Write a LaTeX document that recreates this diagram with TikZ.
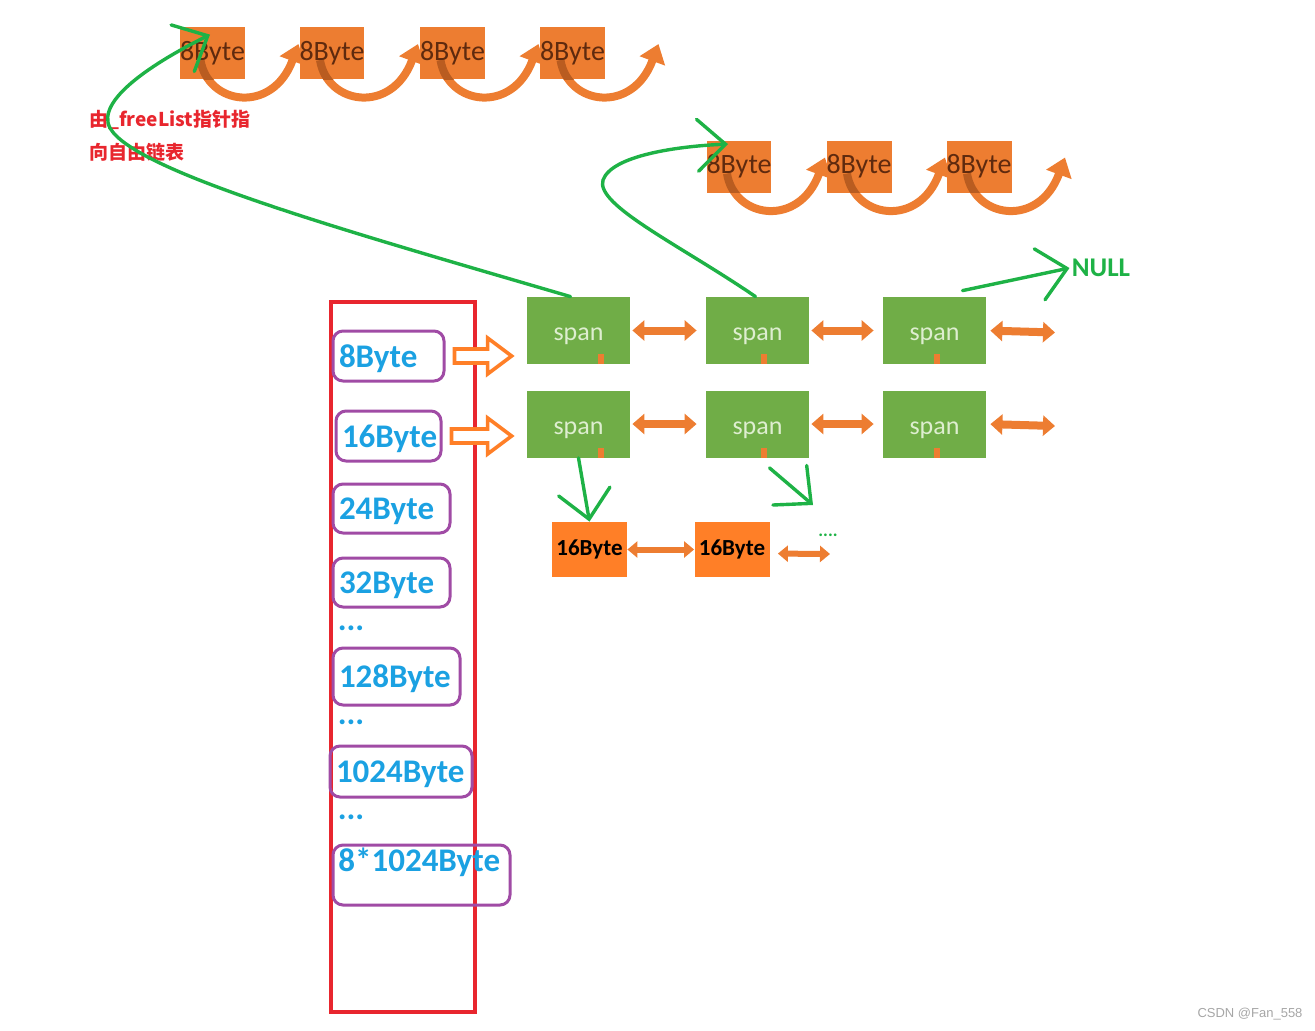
\documentclass[tikz,border=0pt]{standalone}
\usepackage{fontspec}
\setmainfont{Carlito}
\newfontfamily\cjkfont{Noto Sans CJK SC}
\newfontfamily\markfont{Liberation Sans}
\usetikzlibrary{arrows.meta,calc}
\pgfdeclarelayer{background}
\pgfsetlayers{background,main}

\definecolor{slotblue}{RGB}{27,161,226}
\definecolor{slotpurple}{RGB}{160,75,165}
\definecolor{listred}{RGB}{232,38,46}
\definecolor{spangreen}{RGB}{112,173,71}
\definecolor{spantext}{RGB}{222,238,208}
\definecolor{chunkorange}{RGB}{237,125,49}
\definecolor{curldark}{RGB}{185,92,32}
\definecolor{chunktext}{RGB}{95,42,14}
\definecolor{smallorange}{RGB}{255,127,39}
\definecolor{ptrgreen}{RGB}{30,178,70}

\tikzset{
  slot/.style={draw=slotpurple, line width=1.5pt, rounded corners=5pt, text=slotblue,
    font=\fontsize{16.5}{18}\selectfont\bfseries, align=left, inner xsep=3pt, text depth=0pt},
  spanbox/.style={fill=spangreen, minimum width=51.5pt, minimum height=33.5pt,
    text=spantext, font=\fontsize{13}{14}\selectfont, text height=16pt, text depth=6pt},
  chunk/.style={fill=chunkorange, minimum width=32pt, minimum height=26pt, inner sep=0pt,
    text=chunktext, font=\fontsize{14}{15}\selectfont,
    path picture={\draw[line width=4pt, draw=curldark]
      ($(path picture bounding box.center)+(-12,7)$) .. controls
      ($(path picture bounding box.center)+(-5,52)$) and
      ($(path picture bounding box.center)+(60,62)$) ..
      ($(path picture bounding box.center)+(86,-9)$);}},
  curl/.style={draw=chunkorange, line width=4pt, -{Triangle[length=9pt,width=13pt]}},
  smallbox/.style={fill=smallorange, minimum width=37.5pt, minimum height=27.5pt,
    inner sep=0pt, font=\fontsize{11.5}{12}\selectfont\bfseries},
  link/.style={draw=chunkorange, line width=4pt,
    {Triangle[length=6pt,width=10pt]}-{Triangle[length=6pt,width=10pt]}},
  linksmall/.style={draw=chunkorange, line width=3pt,
    {Triangle[length=5pt,width=8pt]}-{Triangle[length=5pt,width=8pt]}},
  hollow/.style={draw=smallorange, line width=1.8pt, fill=white, line join=miter},
  ptr/.style={draw=ptrgreen, line width=1.7pt, line cap=round,
    -{Straight Barb[length=14pt,width=26pt,line cap=round]}},
  note/.style={text=listred, font=\cjkfont\fontsize{9.5}{11}\selectfont\bfseries, inner sep=0pt},
}

\begin{document}
\begin{tikzpicture}[x=0.5pt,y=-0.5pt]
\useasboundingbox (0,0) rectangle (1315,1030);

% size class table
\node[draw=listred, line width=2pt, minimum width=72pt, minimum height=355pt] (table) at (403,657) {};
\foreach \nm/\cx/\cy/\bw/\bh/\bt/\txt in {b8/388.5/356/55.5/25/49.5/8Byte,
    b16/388.5/436/52.5/25/46.5/16Byte, b24/391.5/508.5/58.5/24.5/52.5/24Byte,
    b32/391.5/582.5/58.5/24.5/52.5/32Byte, b128/396.5/676.5/63.5/28.5/57.5/128Byte,
    b1024/401/771.5/71/25.5/65/1024Byte}
  \node[slot, minimum width=\bw pt, minimum height=\bh pt, text width=\bt pt] (\nm) at (\cx,\cy) {\txt};
\node[slot, minimum width=88.5pt, minimum height=30pt] (b8k) at (421.5,875) {};
\node[text=slotblue, font=\fontsize{16.5}{18}\selectfont\bfseries, inner sep=1pt, anchor=west] (b8ktext) at (336,862) {8*1024Byte};
\foreach \i/\y in {1/628,2/722,3/817}
  \node[text=slotblue, font=\fontsize{16.5}{18}\selectfont\bfseries, inner sep=0pt] (dots\i) at (351,\y) {...};

% span lists
\foreach \r/\y in {1/330.5,2/424}{
  \foreach \c/\x/\t in {1/578.5/19,2/757.5/3,3/934.5/-1}{
    \node[spanbox] (s\r\c) at (\x,\y) {span};
    \fill[chunkorange] ($(s\r\c.south)+(\t,0)$) rectangle ++(6,-10);
  }
  \coordinate (end\r) at (1055,\y+2);
  \draw[link, shorten <=1pt, shorten >=4.5pt] (s\r1.east) -- (s\r2.west);
  \draw[link, shorten <=1pt, shorten >=4.5pt] (s\r2.east) -- (s\r3.west);
  \draw[link, shorten <=2pt] (s\r3.east) -- (end\r);
}

% hollow arrows from table to spans
\foreach \bx/\sx in {b8/s11,b16/s21}{
  \coordinate (tail) at ($(\bx.east)+(9,0)$);
  \coordinate (tip) at ($(\bx.east -| \sx.west)+(-15,0)$);
  \draw[hollow] ($(tail)+(0,-7)$) -- ($(tip)+(-24,-7)$) -- ($(tip)+(-24,-18)$) -- (tip)
    -- ($(tip)+(-24,18)$) -- ($(tip)+(-24,7)$) -- ($(tail)+(0,7)$) -- cycle;
}

% free lists of 8Byte chunks
\foreach \i/\x in {1/212.5,2/332,3/452.5,4/572.5}
  \node[chunk] (t\i) at (\x,53) {8Byte};
\foreach \i/\x in {1/739,2/859,3/979}
  \node[chunk] (u\i) at (\x,166.5) {8Byte};
\begin{pgfonlayer}{background}
\foreach \k in {t1,t2,t3,t4,u1,u2,u3}
  \draw[curl] ($(\k)+(-12,7)$) .. controls ($(\k)+(-5,52)$) and ($(\k)+(60,62)$) .. ($(\k)+(86,-9)$);
\end{pgfonlayer}

% 16Byte chunks
\node[smallbox] (o1) at (589.5,549.5) {16Byte};
\node[smallbox] (o2) at (732,549.5) {16Byte};
\coordinate (o3) at (830,554);
\draw[linksmall] (o1.east) -- (o2.west);
\draw[linksmall, shorten <=4pt] ($(o2.east)+(0,4)$) -- (o3);
\node[text=ptrgreen, font=\fontsize{9}{10}\selectfont\bfseries, inner sep=0pt] (more) at (828,535) {....};

% labels
\node[note, anchor=west] (note1) at (89,120) {由\_freeList指针指};
\node[note, anchor=west] (note2) at (89,152) {向自由链表};
\node[text=ptrgreen, font=\fontsize{13.5}{14}\selectfont\bfseries, inner sep=1pt] (null) at (1101,268) {NULL};
\node[text=gray!70, font=\markfont\fontsize{6.5}{7}\selectfont, inner sep=0pt] (wm) at (1250,1014) {CSDN @Fan\_558};

% pointers
\draw[ptr] ($(s11.north)+(-8,0)$) .. controls (350,232) and (135,172) .. (110,128)
  .. controls (95,100) and (155,62) .. ($(t1.north)+(-2.5,8)$);
\draw[ptr] ($(s12.north)+(-2,0)$) .. controls (680,245) and (595,205) .. (603,180)
  .. controls (612,155) and (680,146) .. ($(u1.north)+(-11,4)$);
\draw[ptr] ($(s13.north)+(28,-6)$) -- (null.west);
\draw[ptr] (s21.south) -- (o1.north);
\coordinate (more2) at (813,505);
\draw[ptr] ($(s22.south)+(12,10)$) -- (more2);
\end{tikzpicture}
\end{document}
